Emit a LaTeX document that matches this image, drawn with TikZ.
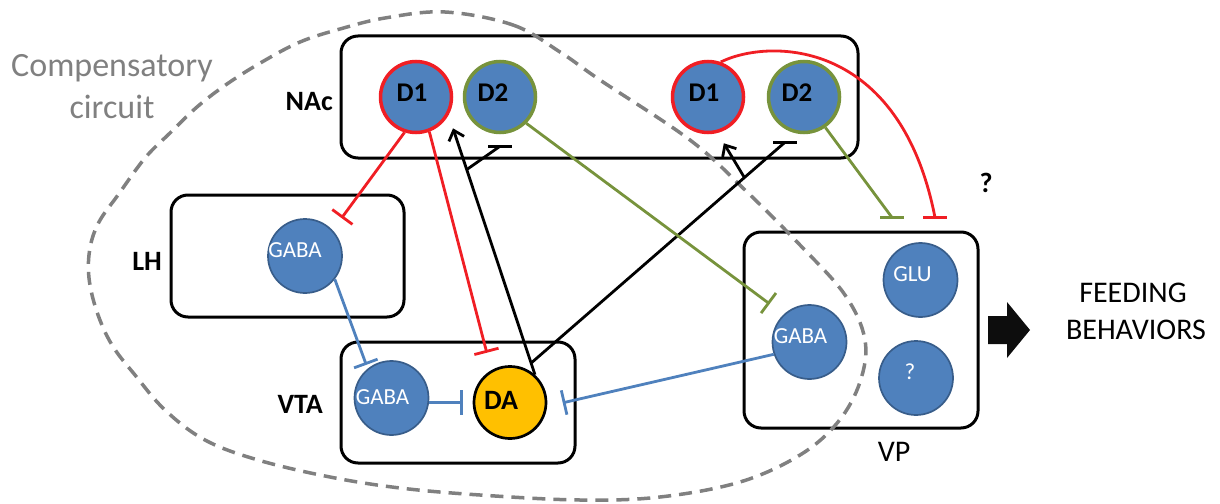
\documentclass[tikz,border=0pt]{standalone}
\usepackage{fontspec}
\setmainfont{Carlito}
\usetikzlibrary{arrows.meta,calc}
\definecolor{cblue}{RGB}{79,129,189}
\definecolor{cblueb}{RGB}{56,93,138}
\definecolor{cred}{RGB}{240,30,36}
\definecolor{cgreen}{RGB}{119,147,60}
\definecolor{cgold}{RGB}{255,192,0}
\definecolor{cgray}{RGB}{128,128,128}
\begin{document}
\begin{tikzpicture}[x=1pt,y=-1pt,
  region/.style={draw=black, line width=3pt, rounded corners=17pt, inner sep=0pt},
  cell/.style={circle, fill=cblue, draw=cblueb, line width=1.7pt, minimum size=74pt, inner sep=0pt},
  d1cell/.style={cell, draw=cred, line width=3.5pt, minimum size=71pt},
  d2cell/.style={cell, draw=cgreen, line width=3.5pt, minimum size=71pt},
  dacell/.style={circle, fill=cgold, draw=black, line width=2.7pt, minimum size=72pt, inner sep=0pt},
  wtxt/.style={text=white, inner sep=0pt, font=\fontsize{23}{25}\selectfont},
  dtxt/.style={text=black, inner sep=0pt, font=\bfseries\fontsize{27}{29}\selectfont},
  rlabel/.style={inner sep=0pt, font=\bfseries\fontsize{28}{30}\selectfont},
  plabel/.style={inner sep=0pt, font=\fontsize{30}{32}\selectfont},
  conn/.style={line width=2.8pt},
  inh/.style={conn, -{Bar[width=25pt]}},
  exc/.style={conn, -{Straight Barb[length=9pt,width=16pt]}},
  tbar/.style={line width=3.5pt},
]
\useasboundingbox (0,0) rectangle (1220,503);

% regions
\node[region, minimum width=517pt, minimum height=122pt] (nac) at (599.5,97) {};
\node[region, minimum width=233pt, minimum height=122pt] (lh) at (287.5,256) {};
\node[region, minimum width=234pt, minimum height=121pt] (vta) at (458,402.5) {};
\node[region, minimum width=234pt, minimum height=196pt] (vp) at (861,330) {};

% compensatory circuit outline
\draw[cgray, line width=3.5pt, dash pattern=on 13pt off 8pt]
  plot[smooth cycle, tension=0.6] coordinates {
  (445,12) (513,25) (560,52) (600,80) (690,140) (745,190) (800,245) (845,295)
  (865,340) (860,382) (838,422) (800,455) (740,482) (660,497) (580,500) (480,495)
  (400,488) (330,477) (258,460) (205,440) (165,410) (135,375) (112,345) (97,312)
  (89,278) (90,248) (99,222) (118,195) (145,158) (170,133) (197,107) (227,84)
  (262,62) (300,42) (340,29) (385,18)};

% cells
\node[d1cell, label={[dtxt, xshift=-4pt, yshift=4pt]center:D1}] (d1a) at (416,97) {};
\node[d2cell, label={[dtxt, xshift=-7pt, yshift=4pt]center:D2}] (d2a) at (500,97) {};
\node[d1cell, label={[dtxt, xshift=-4pt, yshift=4pt]center:D1}] (d1b) at (708,97) {};
\node[d2cell, label={[dtxt, xshift=-7pt, yshift=4pt]center:D2}] (d2b) at (804,97) {};
\node[cell, label={[wtxt, xshift=-10pt, yshift=6pt]center:GABA}] (lhg) at (305,256) {};
\node[cell, label={[wtxt, xshift=-9pt, yshift=1pt]center:GABA}] (vtg) at (391.5,398) {};
\node[dacell, label={[dtxt, font=\bfseries\fontsize{28}{30}\selectfont, xshift=-9pt, yshift=2pt]center:DA}] (da) at (510,402.5) {};
\node[cell, label={[wtxt, xshift=-9pt, yshift=6pt]center:GABA}] (vpg) at (809.5,342) {};
\node[cell, label={[wtxt, xshift=-8pt, yshift=6pt]center:GLU}] (glu) at (920.5,280) {};
\node[cell, label={[wtxt, xshift=-6pt, yshift=6pt]center:?}] (vpq) at (916,378) {};

% labels
\node[rlabel, anchor=base east] (nacl) at (333,110) {NAc};
\node[rlabel, anchor=base east] (lhl) at (162,270) {LH};
\node[rlabel, anchor=base east] (vtal) at (323,413) {VTA};
\node[plabel, anchor=base] (vpl) at (894,461) {VP};
\node[rlabel, anchor=base] (qm) at (986,192) {?};
\node[plabel, anchor=base] (feed1) at (1133,302) {FEEDING};
\node[plabel, anchor=base] (feed2) at (1136,339) {BEHAVIORS};
\node[inner sep=0pt, anchor=base, text=cgray, font=\fontsize{34}{36}\selectfont] (comp1) at (112,77) {Compensatory};
\node[inner sep=0pt, anchor=base, text=cgray, font=\fontsize{34}{36}\selectfont] (comp2) at (112,118) {circuit};

% output arrow
\fill[black!95] (988,316) -- (1007,316) -- (1007,302) -- (1030,330) -- (1007,358) -- (1007,344) -- (988,344) -- cycle;

% red connectors from D1 (left)
\draw[inh, cred, shorten >=15pt] (d1a.252) -- (lhg.43);
\draw[inh, cred, shorten >=18pt] (d1a.291) -- (da.120);

% black connectors from DA
\draw[exc, shorten >=14pt] (da.48) -- (d1a.331);
\coordinate (j0) at ($(da.48)!0.045!(d1a.331)$);
\coordinate (b1) at ($(da.48)!0.79!(d1a.331)$);
\coordinate (t1) at ($(d2a.south)+(0,12)$);
\draw[conn] (b1) -- (t1);
\draw[tbar] ($(t1)+(-12,0)$) -- ($(t1)+(12,0)$);
\coordinate (t2) at ($(d2b.south)+(-19,8)$);
\draw[conn] (j0) -- (t2);
\draw[tbar] ($(t2)+(-12,0)$) -- ($(t2)+(12,0)$);
\coordinate (b2) at ($(j0)!0.84!(t2)$);
\draw[exc, shorten >=12pt] (b2) -- (d1b.285);

% green connectors
\draw[inh, cgreen, shorten >=17.5pt] (d2a.315) -- (vpg.133);
\coordinate (t3) at ($(vp.north)+(31,-13)$);
\draw[conn, cgreen] (d2b.-55) -- (t3);
\draw[tbar, cgreen] ($(t3)+(-12,0)$) -- ($(t3)+(12,0)$);

% red curved connector from D1 (right)
\coordinate (t4) at ($(vp.north)+(74,-13)$);
\draw[conn, cred] (d1b.70) .. controls +(49,-24) and +(-35,-179) .. (t4);
\draw[tbar, cred] ($(t4)+(-12,0)$) -- ($(t4)+(12,0)$);

% blue connectors
\draw[inh, cblue, shorten >=4pt] (lhg.322) -- (vtg.129);
\draw[inh, cblue, shorten >=10pt] (vtg.east |- da.west) -- (da.west);
\draw[inh, cblue, shorten >=16pt] (vpg.199) -- (da.-6);
\end{tikzpicture}
\end{document}
